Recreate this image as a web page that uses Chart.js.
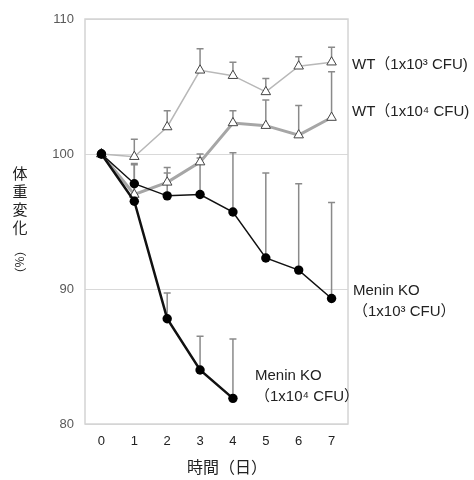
<script src="https://cdn.jsdelivr.net/npm/chart.js"></script>
<style>
  body { margin: 0; background: #fff; }
  #wrap { width: 474px; height: 480px; }
</style>
<div id="wrap"><canvas id="myChart"></canvas></div>
<script>
  const days = ['0', '1', '2', '3', '4', '5', '6', '7'];

  const wt3 = [100, 99.8, 102.0, 106.2, 105.8, 104.6, 106.5, 106.8];
  const wt3Err = [0, 1.3, 1.2, 1.6, 1.0, 1.0, 0.7, 1.1];

  const wt4 = [100, 97.0, 97.9, 99.4, 102.3, 102.1, 101.4, 102.7];
  const wt4Err = [0, 2.2, 1.1, 0.6, 0.9, 1.9, 2.2, 3.4];

  const ko3 = [100, 97.8, 96.9, 97.0, 95.7, 92.3, 91.4, 89.3];
  const ko3Err = [0, 1.5, 1.7, 2.7, 4.4, 6.3, 6.4, 7.1];

  const ko4 = [100, 96.5, 87.8, 84.0, 81.9];
  const ko4Err = [0, 1.2, 1.9, 2.5, 4.4];

  const seriesLabels = [
    { lines: ['WT（1x10³ CFU)'], x: 352, y: 65 },
    { lines: ['WT（1x10⁴ CFU)'], x: 352, y: 112 },
    { lines: ['Menin KO', '（1x10³ CFU）'], x: 353, y: 291 },
    { lines: ['Menin KO', '（1x10⁴ CFU）'], x: 255, y: 376 }
  ];

  const errs = [ko4Err, ko3Err, wt4Err, wt3Err];
  const font = '"Liberation Sans", "Noto Sans CJK JP", sans-serif';

  const decorations = {
    id: 'decorations',
    beforeDatasetsDraw(chart) {
      const ctx = chart.ctx;
      const a = chart.chartArea;
      const x = chart.scales.x, y = chart.scales.y;
      ctx.save();
      // frame
      ctx.strokeStyle = '#d4d4d4';
      ctx.lineWidth = 1.5;
      ctx.strokeRect(a.left, a.top, a.right - a.left, a.bottom - a.top);
      // error bars (upper only)
      ctx.strokeStyle = '#8a8a8a';
      ctx.lineWidth = 1.5;
      chart.data.datasets.forEach((ds, i) => {
        ds.data.forEach((v, j) => {
          const e = errs[i][j];
          if (!e) return;
          const px = x.getPixelForValue(j);
          const y0 = y.getPixelForValue(v);
          const y1 = y.getPixelForValue(v + e);
          ctx.beginPath();
          ctx.moveTo(px, y0);
          ctx.lineTo(px, y1);
          ctx.moveTo(px - 3.5, y1);
          ctx.lineTo(px + 3.5, y1);
          ctx.stroke();
        });
      });
      ctx.restore();
    },
    afterDraw(chart) {
      const ctx = chart.ctx;
      ctx.save();
      ctx.fillStyle = '#222';
      ctx.textBaseline = 'middle';
      ctx.textAlign = 'left';
      ctx.font = '15px ' + font;
      seriesLabels.forEach(l => {
        l.lines.forEach((t, k) => ctx.fillText(t, l.x, l.y + k * 21));
      });
      // axis titles
      ctx.font = '16px "Noto Sans CJK JP", sans-serif';
      ctx.textAlign = 'center';
      ctx.fillText('時間（日）', 227, 467);
      ctx.font = '15px "Noto Sans CJK JP", sans-serif';
      ['体', '重', '変', '化'].forEach((c, k) => ctx.fillText(c, 20, 173 + k * 18));
      ctx.translate(20, 262);
      ctx.rotate(Math.PI / 2);
      ctx.font = '12px "Noto Sans CJK JP", sans-serif';
      ctx.fillText('（%）', 0, 0);
      ctx.restore();
    }
  };

  const tri = { pointStyle: 'triangle', pointRadius: 5.5, pointBackgroundColor: '#fff', pointBorderColor: '#444', pointBorderWidth: 1 };
  const dot = { pointStyle: 'circle', pointRadius: 4.7, pointBackgroundColor: '#000', pointBorderColor: '#000', pointBorderWidth: 0 };

  new Chart(document.getElementById('myChart'), {
    type: 'line',
    data: {
      labels: days,
      datasets: [
        { data: ko4, borderColor: '#111', borderWidth: 2.5, ...dot },
        { data: ko3, borderColor: '#111', borderWidth: 1.5, ...dot },
        { data: wt4, borderColor: '#a6a6a6', borderWidth: 3, ...tri },
        { data: wt3, borderColor: '#b8b8b8', borderWidth: 1.5, ...tri }
      ]
    },
    options: {
      responsive: true,
      maintainAspectRatio: false,
      animation: false,
      layout: { padding: { top: 19, right: 126, left: 0, bottom: 0 } },
      plugins: { legend: { display: false }, tooltip: { enabled: false } },
      scales: {
        x: {
          type: 'category',
          offset: true,
          grid: { display: false, drawTicks: false },
          border: { display: false },
          ticks: { color: '#222', padding: 10, font: { size: 13, family: font } },
          afterFit: s => { s.height = 56; }
        },
        y: {
          min: 80, max: 110,
          grid: { color: '#d9d9d9', lineWidth: 1, drawTicks: false },
          border: { display: false },
          ticks: { stepSize: 10, color: '#595959', padding: 11, font: { size: 13, family: font } },
          afterFit: s => { s.width = 85; }
        }
      }
    },
    plugins: [decorations]
  });
</script>
